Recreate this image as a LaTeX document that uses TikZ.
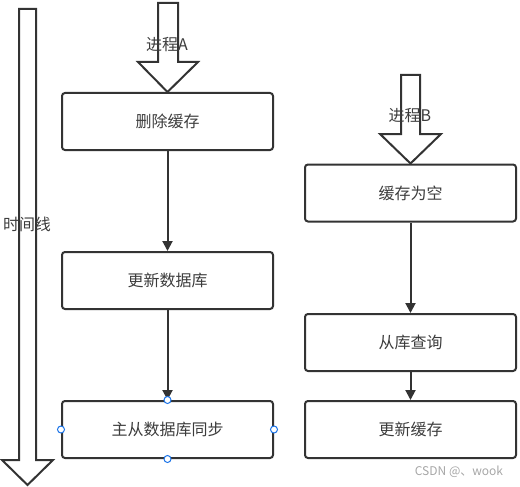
\documentclass[tikz,border=0pt]{standalone}
\usepackage{fontspec}
\setmainfont{Noto Sans CJK SC}
\usetikzlibrary{arrows.meta}
\definecolor{ink}{HTML}{333333}
\definecolor{txt}{HTML}{3C3C3C}
\definecolor{handle}{HTML}{1A73E8}
\tikzset{
  box/.style={draw=ink, line width=2pt, rounded corners=3pt, minimum width=211pt, minimum height=57pt, inner sep=0pt, text=txt, font=\fontsize{16}{19}\selectfont},
  flow/.style={draw=ink, line width=2pt, -{Triangle[length=10pt,width=10pt]}},
  blockarrow/.style={draw=ink, line width=2pt, line join=miter},
  lbl/.style={text=txt, font=\fontsize{16}{19}\selectfont, inner sep=0pt},
  hdl/.style={circle, draw=handle, fill=white, line width=1pt, minimum size=7pt, inner sep=0pt}
}
\begin{document}
\begin{tikzpicture}[x=1pt,y=-1pt]
\useasboundingbox (0,0) rectangle (520,487);
% boxes
\node[box] (a1) at (167.5,121.5) {删除缓存};
\node[box] (a2) at (167.5,280.5) {更新数据库};
\node[box] (a3) at (167.5,429.5) {主从数据库同步};
\node[box] (b1) at (410.5,193) {缓存为空};
\node[box] (b2) at (410.5,342.5) {从库查询};
\node[box] (b3) at (410.5,429.5) {更新缓存};
% connectors
\draw[flow] (a1) -- (a2);
\draw[flow] (a2) -- (a3);
\draw[flow] (b1) -- (b2);
\draw[flow] (b2) -- (b3);
% block arrows
\draw[blockarrow] (158,3) -- (178,3) -- (178,62) -- (198,62) -- (a1.north) -- (138,62) -- (158,62) -- cycle;
\draw[blockarrow] (401,75) -- (420,75) -- (420,134) -- (441,134) -- (b1.north) -- (380,134) -- (401,134) -- cycle;
\draw[blockarrow] (19,9) -- (36,9) -- (36,460) -- (53,460) -- (27.5,485) -- (2,460) -- (19,460) -- cycle;
% labels
\node[lbl] (la) at (167,45) {进程A};
\node[lbl] (lb) at (410,116) {进程B};
\node[lbl] (lt) at (27,224) {时间线};
% selection handles
\node[hdl] (h1) at (a3.north) {};
\node[hdl] (h2) at (a3.south) {};
\node[hdl] (h3) at (a3.west) {};
\node[hdl] (h4) at (a3.east) {};
% watermark
\node[text=gray!70, font=\fontsize{12}{14}\selectfont, inner sep=0pt] (wm) at (459,472) {CSDN @、wook};
\end{tikzpicture}
\end{document}
